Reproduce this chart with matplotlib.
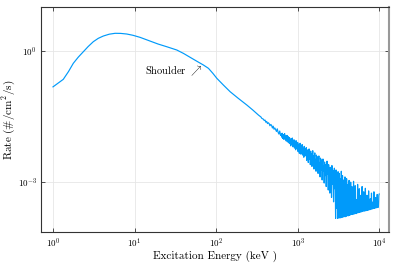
import matplotlib
matplotlib.use('Agg')
import matplotlib.pyplot as plt
import numpy as np

plt.rcParams['font.family'] = ['cmr10', 'DejaVu Serif']
plt.rcParams['mathtext.fontset'] = 'cm'
plt.rcParams['axes.formatter.use_mathtext'] = True

# smooth part of the spectrum, log10(keV) vs log10(rate)
logE_smooth = [0.0, 0.126, 0.19, 0.249, 0.31, 0.372, 0.43, 0.494, 0.555, 0.617,
               0.69, 0.761, 0.83, 0.904, 0.98, 1.067, 1.18, 1.288, 1.40, 1.518,
               1.60, 1.681, 1.76, 1.844, 1.906, 1.96, 2.009, 2.09, 2.172, 2.27,
               2.377, 2.45, 2.519]
logR_smooth = [-0.82, -0.648, -0.47, -0.281, -0.14, -0.016, 0.10, 0.213, 0.29, 0.343,
               0.385, 0.405, 0.403, 0.389, 0.36, 0.313, 0.235, 0.160, 0.095, 0.023,
               -0.055, -0.144, -0.23, -0.320, -0.396, -0.51, -0.625, -0.78, -0.931, -1.08,
               -1.236, -1.35, -1.465]

# noisy tail: bins every 0.01 dex from 2.55, every 0.005 dex from 2.80 to 4.00
logE_tail = np.concatenate([np.arange(2.55, 2.795, 0.01),
                            np.arange(2.80, 4.0001, 0.005)])
logR_tail = [
    -1.51, -1.54, -1.55, -1.56, -1.59, -1.58, -1.63, -1.61, -1.66, -1.64,
    -1.66, -1.71, -1.68, -1.70, -1.76, -1.72, -1.79, -1.76, -1.80, -1.84,
    -1.78, -1.86, -1.90, -1.83, -1.93,
    # 2.80 ->
    -1.90, -1.97, -1.88, -2.00, -1.93, -1.91, -2.02, -1.95, -1.89, -1.99,
    -2.03, -1.94, -2.06, -1.98, -1.93, -2.08, -2.01, -1.96, -2.10, -2.02,
    -1.98, -2.12, -2.05, -2.17, -2.00, -2.09, -2.14, -1.99, -2.19, -2.06,
    -2.11, -2.03, -2.22, -2.08, -2.15, -2.26, -2.05, -2.18, -2.12, -2.24,
    -2.09, -2.30, -2.17, -2.13, -2.34, -2.20, -2.11, -2.27, -2.36, -2.16,
    -2.25, -2.14, -2.38, -2.22, -2.31, -2.43, -2.18, -2.29, -2.40, -2.24,
    -2.35, -2.21, -2.50, -2.30, -2.42, -2.26, -2.55, -2.33, -2.24, -2.47,
    -2.38, -2.60, -2.29, -2.45, -2.35, -2.64, -2.41, -2.28, -2.52, -2.39,
    -2.70, -2.44, -2.33, -2.58, -2.48, -2.75, -2.38, -2.52, -2.62, -2.42,
    -2.80, -2.50, -2.40, -2.66, -2.55, -2.88, -2.45, -2.61, -2.72, -2.49,
    -2.95, -2.58, -2.47, -2.75, -2.62, -3.02, -2.54, -2.68, -2.85, -2.60,
    -3.10, -2.65, -2.52, -2.82, -2.72, -3.18, -2.60, -2.90, -2.70, -3.25,
    -2.66, -2.95, -2.78, -3.35, -2.62, -2.88, -3.05, -2.74, -3.45, -2.80,
    -2.68, -3.15, -2.90, -3.83, -2.72, -3.00, -3.60, -2.85, -3.83, -2.76,
    -3.20, -3.82, -2.80, -3.05, -3.82, -2.92, -3.50, -2.75, -3.81, -3.10,
    -2.85, -3.80, -3.30, -2.95, -3.79, -3.60, -2.88, -3.79, -3.20, -3.78,
    -2.92, -3.77, -3.45, -3.05, -3.77, -3.65, -2.96, -3.76, -3.35, -3.75,
    -3.00, -3.74, -3.62, -3.10, -3.74, -3.50, -3.73, -2.98, -3.73, -3.66,
    -3.72, -3.08, -3.70, -3.72, -3.40, -3.71, -3.60, -3.05, -3.70, -3.66,
    -3.69, -3.15, -3.69, -3.62, -3.68, -3.30, -3.68, -3.58, -3.10, -3.67,
    -3.67, -3.60, -3.22, -3.66, -3.55, -3.66, -3.14, -3.65, -3.60, -3.65,
    -3.30, -3.64, -3.57, -3.64, -3.20, -3.63, -3.55, -3.63, -3.38, -3.62,
    -3.62, -3.25, -3.61, -3.54, -3.61, -3.45, -3.60, -3.22, -3.60, -3.55,
    -3.59, -3.35, -3.59, -3.52, -3.58, -3.28, -3.58, -3.48, -3.57, -3.30,
    -3.27]

energy = 10 ** np.concatenate([logE_smooth, logE_tail])
rate = 10 ** np.concatenate([logR_smooth, logR_tail])

fig = plt.figure(figsize=(3.97, 2.64), dpi=100)
ax = fig.add_axes([0.1033, 0.1212, 0.8766, 0.8523])

ax.plot(energy, rate, color='#009afa', lw=0.85)
ax.set_xscale('log')
ax.set_yscale('log')
ax.set_xlim(10 ** -0.147, 10 ** 4.12)
ax.set_ylim(10 ** -4.14, 10 ** 1.007)
ax.set_xticks([1, 10, 100, 1000, 10000])
ax.set_yticks([1, 1e-3])
ax.minorticks_off()

ax.grid(True, color='#e6e6e6', lw=0.6)
ax.set_axisbelow(True)
ax.tick_params(direction='in', length=3, width=0.6, labelsize=6.5, pad=3,
               top=True, right=True, color='#333333')
for s in ['left', 'bottom', 'top']:
    ax.spines[s].set_color('#333333')
    ax.spines[s].set_linewidth(0.8)
ax.spines['right'].set_color('#999999')
ax.spines['right'].set_linewidth(1.5)

ax.set_xlabel('Excitation Energy (keV )', fontsize=8, labelpad=1)
ax.set_ylabel('Rate (#/cm$^2$/s)', fontsize=8)
ax.yaxis.set_label_coords(-0.07, 0.5)

ax.text(10 ** 1.828, 10 ** -0.458, r'Shoulder $\nearrow$', fontsize=7.5,
        ha='right', va='center')

fig.savefig('out.png', dpi=100)
